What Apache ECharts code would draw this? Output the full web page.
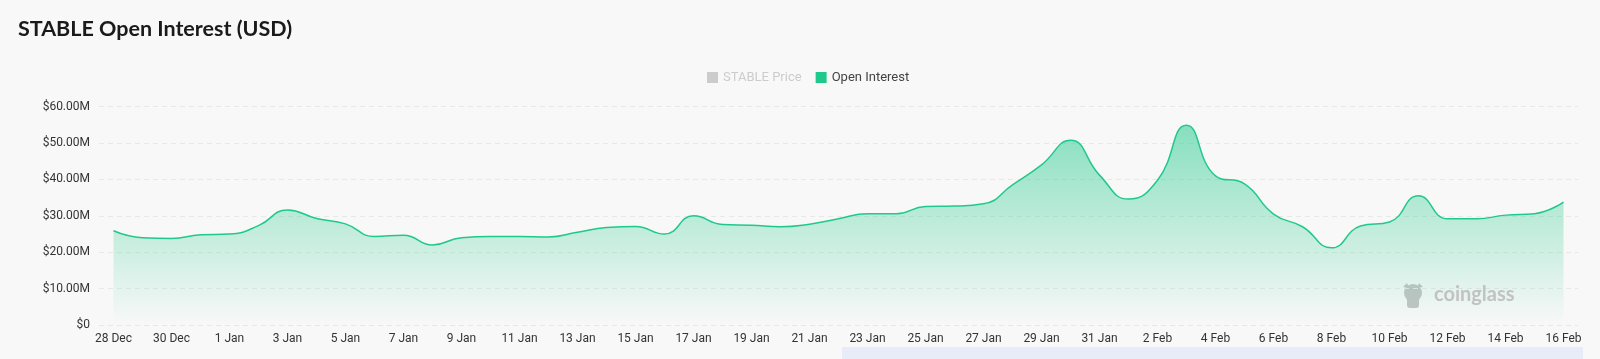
<!DOCTYPE html>
<html>
<head>
<meta charset="utf-8">
<script src="https://cdn.jsdelivr.net/npm/echarts@6/dist/echarts.min.js"></script>
<style>
html,body{margin:0;padding:0;background:#f8f8f8;}
#c{width:1600px;height:359px;}
</style>
</head>
<body>
<div id="c"></div>
<script>
const categories = [
  '28 Dec','29 Dec','30 Dec','31 Dec',
  '1 Jan','2 Jan','3 Jan','4 Jan','5 Jan','6 Jan','7 Jan','8 Jan','9 Jan','10 Jan',
  '11 Jan','12 Jan','13 Jan','14 Jan','15 Jan','16 Jan','17 Jan','18 Jan','19 Jan','20 Jan',
  '21 Jan','22 Jan','23 Jan','24 Jan','25 Jan','26 Jan','27 Jan','28 Jan','29 Jan','30 Jan','31 Jan',
  '1 Feb','2 Feb','3 Feb','4 Feb','5 Feb','6 Feb','7 Feb','8 Feb','9 Feb','10 Feb',
  '11 Feb','12 Feb','13 Feb','14 Feb','15 Feb','16 Feb'
];
// Open interest in millions of USD
const openInterestM = [
  25.9, 24.0, 23.8, 24.8,
  25.0, 27.3, 31.6, 29.3, 27.8, 24.3, 24.7, 22.0, 24.0, 24.3,
  24.3, 24.2, 25.5, 26.8, 27.1, 25.0, 30.0, 27.6, 27.4, 27.0,
  27.7, 29.2, 30.6, 30.6, 32.6, 32.7, 33.3, 38.5, 44.0, 50.8, 41.2,
  34.6, 39.8, 54.9, 41.0, 38.8, 30.5, 27.0, 21.2, 27.2, 28.3,
  35.5, 29.2, 29.2, 30.2, 30.6, 33.8
];
const priceValues = []; // hidden series (deselected in legend)
const yTicks = [0, 10e6, 20e6, 30e6, 40e6, 50e6, 60e6];

const chart = echarts.init(document.getElementById('c'), null, {renderer: 'canvas'});
const green = '#20c98b';
chart.setOption({
  backgroundColor: '#f8f8f8',
  animation: false,
  title: {
    text: 'STABLE Open Interest (USD)',
    left: 13, top: 13,
    textStyle: {fontFamily: 'Lato', fontSize: 21.5, fontWeight: 'bold', color: '#1a1a1a'}
  },
  legend: {
    left: 702, top: 66,
    icon: 'rect', itemWidth: 11, itemHeight: 11, itemGap: 14,
    textStyle: {fontFamily: 'Roboto', fontSize: 13, color: '#444'},
    inactiveColor: '#cccccc',
    data: ['STABLE Price', 'Open Interest'],
    selected: {'STABLE Price': false, 'Open Interest': true}
  },
  grid: {left: 99, right: 22, top: 106.7, bottom: 34, containLabel: false},
  xAxis: {
    type: 'category',
    data: categories,
    boundaryGap: true,
    axisLine: {show: false},
    axisTick: {show: false},
    axisLabel: {interval: 1, fontFamily: 'Roboto', fontSize: 12, color: '#333', margin: 8}
  },
  yAxis: [{
    type: 'value',
    min: yTicks[0], max: yTicks[yTicks.length - 1], interval: 10e6,
    axisLine: {show: false},
    axisTick: {show: false},
    axisLabel: {
      fontFamily: 'Roboto', fontSize: 12, color: '#333', margin: 9,
      formatter: v => v === 0 ? '$0' : '$' + (v / 1e6).toFixed(2) + 'M'
    },
    splitLine: {lineStyle: {type: [5, 4], color: '#e8e8e8', width: 1}}
  }, {
    type: 'value', show: false
  }],
  graphic: [
    {
      type: 'rect', shape: {x: 842, y: 347, width: 741, height: 12},
      style: {fill: '#e8ecf9'}, z: -1
    },
    {
      type: 'group', left: 1403, top: 283, z: 100,
      children: [
        {type: 'circle', shape: {cx: 12, cy: 10, r: 9}, style: {fill: '#c4c4c4'}},
        {type: 'rect', shape: {x: 6, y: 14, width: 12, height: 11, r: 3}, style: {fill: '#c4c4c4'}},
        {type: 'polygon', shape: {points: [[2, 4], [6, 0], [8, 5]]}, style: {fill: '#c4c4c4'}},
        {type: 'polygon', shape: {points: [[22, 4], [18, 0], [16, 5]]}, style: {fill: '#c4c4c4'}}
      ]
    },
    {
      type: 'text', left: 1434, top: 285, z: 100,
      style: {text: 'coinglass', fontFamily: 'Lato', fontWeight: 'bold', fontSize: 20, fill: '#c2c2c2'}
    }
  ],
  series: [
    {
      name: 'STABLE Price', type: 'line', yAxisIndex: 1, data: priceValues,
      showSymbol: false, itemStyle: {color: '#cccccc'}
    },
    {
      name: 'Open Interest', type: 'line',
      data: openInterestM.map(v => v * 1e6),
      smooth: 0.5,
      showSymbol: false, symbol: 'none',
      itemStyle: {color: green},
      lineStyle: {color: green, width: 1.5},
      areaStyle: {
        color: new echarts.graphic.LinearGradient(0, 0, 0, 1, [
          {offset: 0, color: 'rgba(32,201,139,0.75)'},
          {offset: 1, color: 'rgba(32,201,139,0.0)'}
        ])
      }
    }
  ]
});
</script>
</body>
</html>
